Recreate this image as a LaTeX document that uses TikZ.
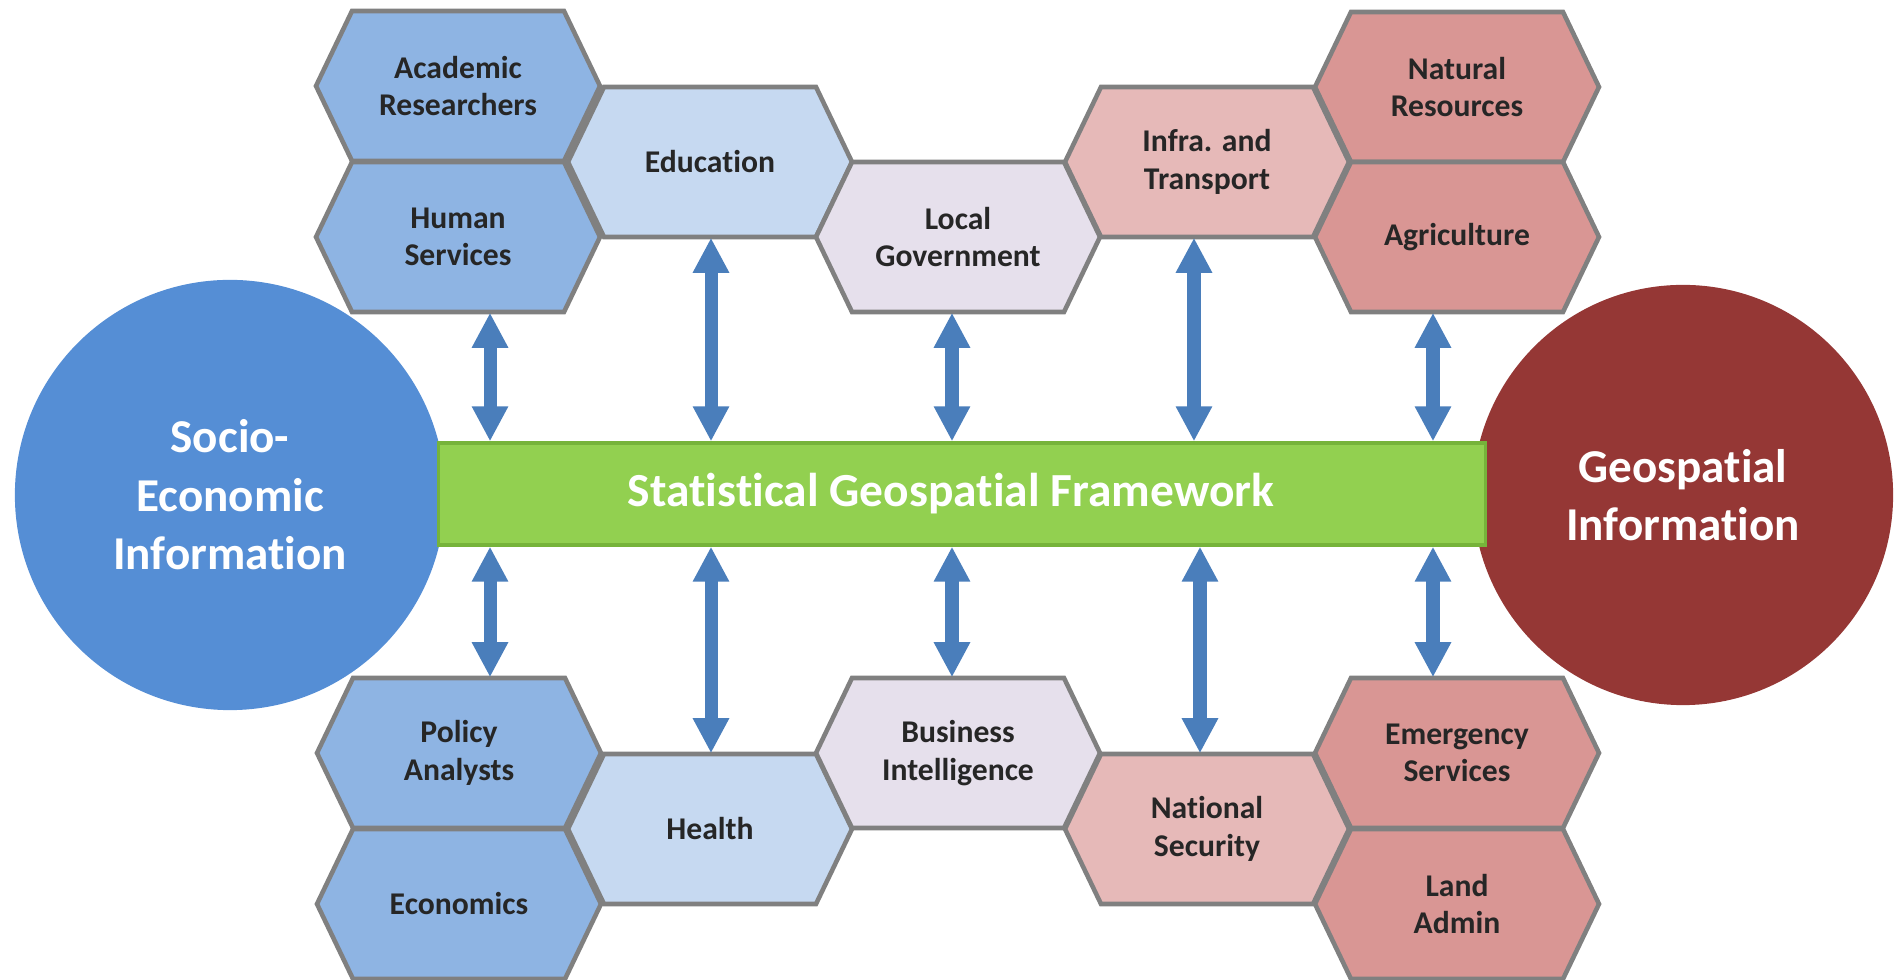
\documentclass[tikz,border=0pt]{standalone}
\usepackage{fontspec}
\setmainfont{Carlito}[Ligatures=NoCommon]
\usetikzlibrary{calc,arrows.meta}
\definecolor{hexline}{HTML}{808080}
\definecolor{colA}{HTML}{8EB4E3}
\definecolor{colB}{HTML}{C6D9F1}
\definecolor{colC}{HTML}{E6E0EC}
\definecolor{colD}{HTML}{E6B9B8}
\definecolor{colE}{HTML}{D99694}
\definecolor{socioblue}{HTML}{558ED5}
\definecolor{geored}{HTML}{953735}
\definecolor{sgfgreen}{HTML}{92D050}
\definecolor{sgfedge}{HTML}{76B33A}
\definecolor{linkblue}{HTML}{4A7EBB}
\newcommand{\hexcell}[4]{%
  \draw[hexedge,fill=#3,shift={#1}] (-142,0) -- (-106,-75) -- (106,-75) -- (142,0) -- (106,75) -- (-106,75) -- cycle;
  \node[hexbox] (#2) at #1 {#4};}

\begin{document}
\begin{tikzpicture}[x=0.01cm,y=-0.01cm,
  hexedge/.style={draw=hexline,line width=1.3pt,line join=miter},
  hexbox/.style={minimum width=2.84cm,minimum height=1.5cm,inner sep=0pt,align=center,
    text=black!85,font=\fontsize{9}{10.6}\selectfont\bfseries},
  bigcirc/.style={circle,inner sep=0pt,minimum size=4.3cm,text=white,align=center,
    font=\fontsize{13.4}{16.6}\selectfont\bfseries},
  link/.style={draw=linkblue,line width=3.7pt,
    {Triangle[width=3.4mm,length=3.5mm]}-{Triangle[width=3.4mm,length=3.5mm]}}]
\useasboundingbox (0,0) rectangle (1899,980);

\node[bigcirc,fill=socioblue] (sei) at (230,495) {Socio-\\Economic\\Information};
\node[bigcirc,fill=geored,minimum size=4.2cm] (gi) at (1683,495) {Geospatial\\Information};
\node[draw=sgfedge,line width=0.9pt,fill=sgfgreen,minimum width=10.46cm,minimum height=1.02cm] (sgf) at (962,494) {};
\node[text=white,font=\fontsize{13.5}{16}\selectfont\bfseries] (sgft) at ([xshift=-1.1mm]sgf.center) {Statistical Geospatial Framework};

% upper cells
\hexcell{(458,86)}{ar}{colA}{Academic\\Researchers}
\hexcell{(458,237)}{hs}{colA}{Human\\Services}
\hexcell{(710,162)}{edu}{colB}{Education}
\hexcell{(958,237)}{lg}{colC}{Local\\Government}
\hexcell{(1207,162)}{it}{colD}{Infra. and\\Transport}
\hexcell{(1457,87)}{nr}{colE}{Natural\\Resources}
\hexcell{(1457,237)}{agr}{colE}{Agriculture}

% lower cells
\hexcell{(459,753)}{pa}{colA}{Policy\\Analysts}
\hexcell{(459,904)}{eco}{colA}{Economics}
\hexcell{(710,829)}{hea}{colB}{Health}
\hexcell{(958,753)}{bi}{colC}{Business\\Intelligence}
\hexcell{(1207,829)}{ns}{colD}{National\\Security}
\hexcell{(1457,753)}{es}{colE}{Emergency\\Services}
\hexcell{(1457,904)}{la}{colE}{Land\\Admin}

\foreach \n/\s in {hs/3.2,edu/0.1,lg/-0.6,it/-1.3,agr/-2.4}
  \draw[link] ([xshift=\s mm]\n.south) coordinate (t) -- (t |- sgf.north);
\foreach \n/\s in {pa/3.1,hea/0.1,bi/-0.6,ns/-0.7,es/-2.4}
  \draw[link] ([xshift=\s mm]\n.north) coordinate (t) -- (t |- sgf.south);
\end{tikzpicture}
\end{document}
